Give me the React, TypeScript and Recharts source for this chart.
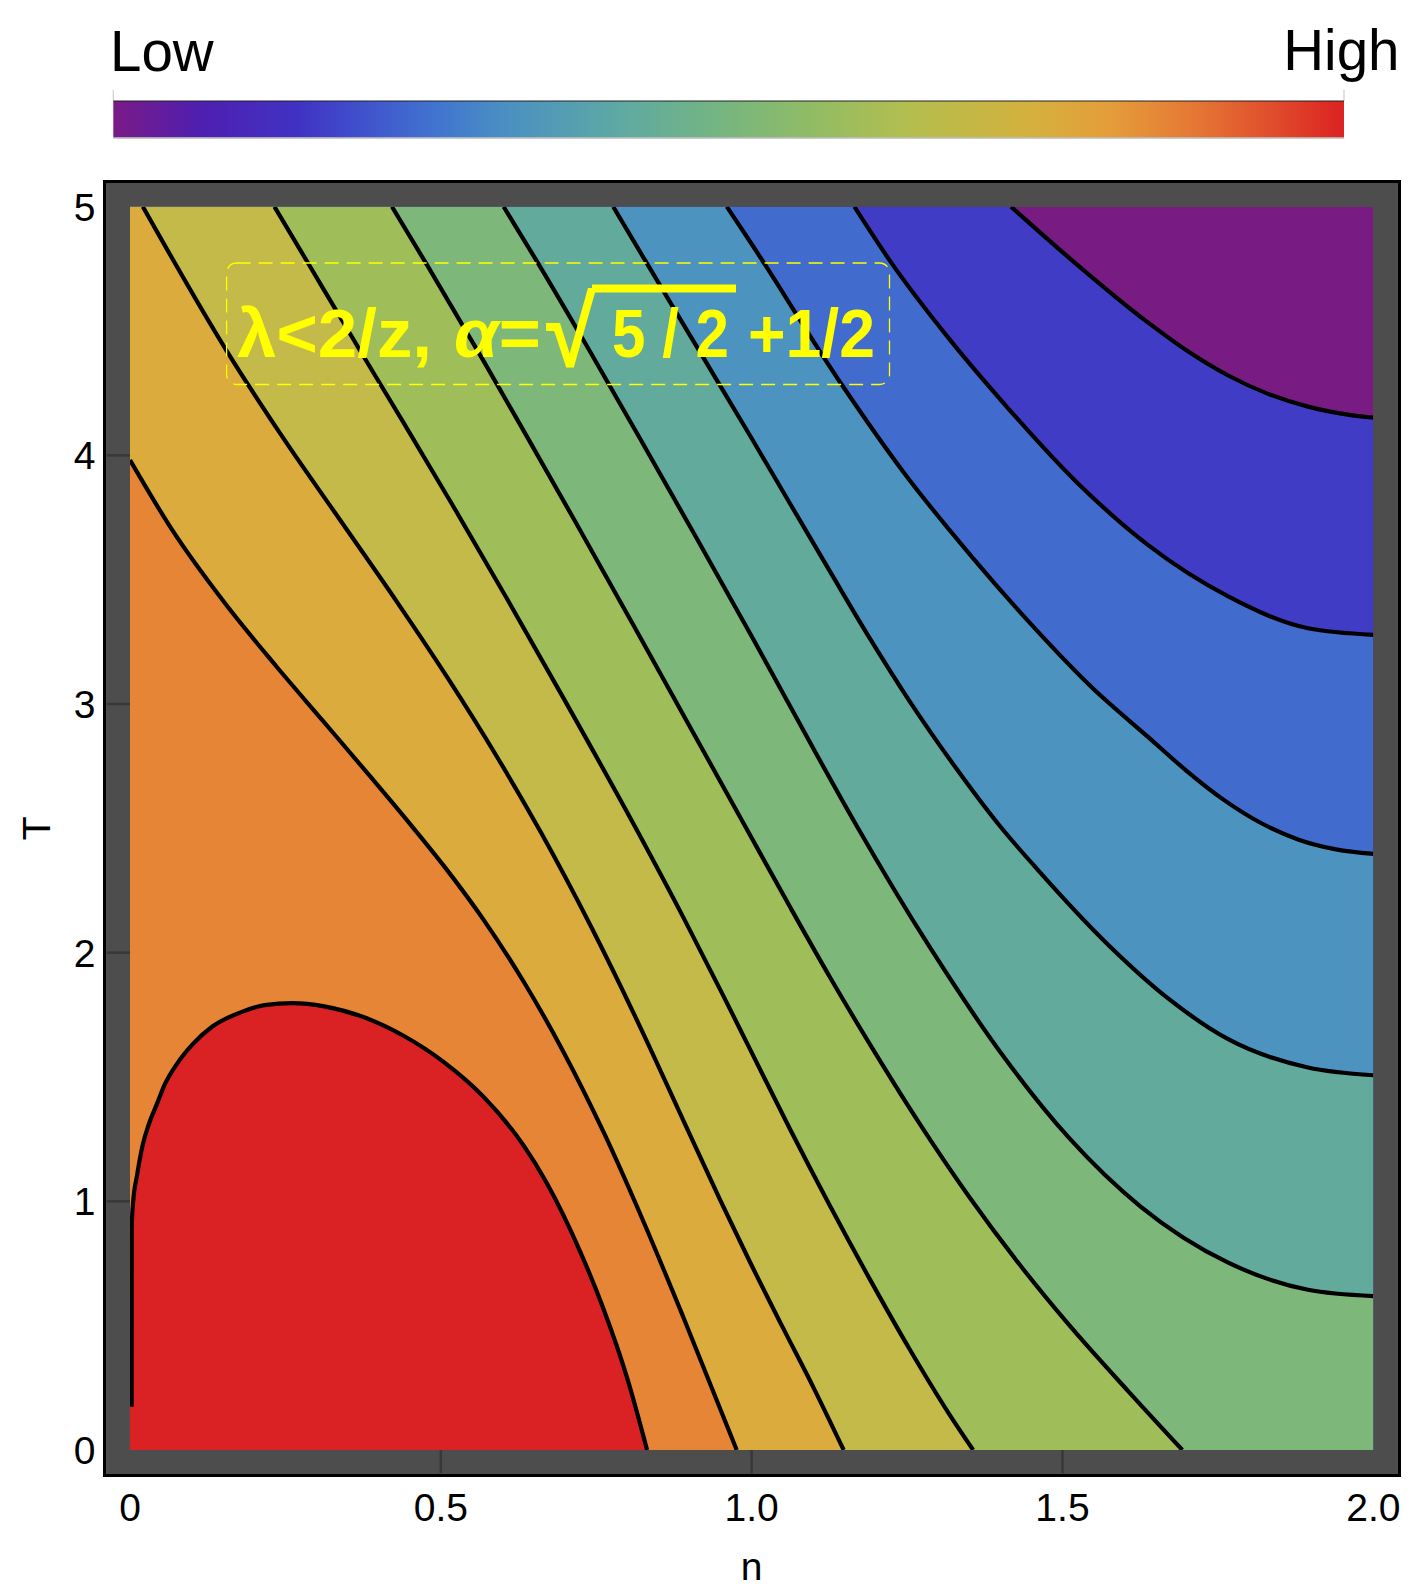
import React from 'react';
import { ComposedChart, Area, Line, XAxis, YAxis } from 'recharts';

const FONT = '"Liberation Sans", Arial, Helvetica, sans-serif';

// ---------- axis ticks ----------
const xTicks = [0, 0.5, 1, 1.5, 2];
const xTickLabels = ['0', '0.5', '1.0', '1.5', '2.0'];
const yTicks = [0, 1, 2, 3, 4, 5];
const yTickLabels = ['0', '1', '2', '3', '4', '5'];
const xFrameTicks = [0.5, 1, 1.5];
const yFrameTicks = [1, 2, 3, 4];

// ---------- contour lines [n, T] (from highest level to lowest) ----------
const contour1: [number, number][] = [
  [0.0026, 0.174], [0.0028, 0.894], [0.0048, 0.991], [0.0112, 1.103], [0.0208, 1.231],
  [0.0304, 1.311], [0.0432, 1.391], [0.0561, 1.471], [0.0753, 1.552], [0.1009, 1.632],
  [0.133, 1.704], [0.1779, 1.76], [0.2163, 1.789], [0.2612, 1.797], [0.3125, 1.784],
  [0.3766, 1.74], [0.4407, 1.665], [0.5049, 1.56], [0.5689, 1.42], [0.6331, 1.225],
  [0.6702, 1.075], [0.7238, 0.8], [0.7613, 0.57], [0.7997, 0.29], [0.8318, 0],
];
const contour2: [number, number][] = [
  [0, 3.981], [0.0689, 3.696], [0.1522, 3.407], [0.2356, 3.151], [0.3125, 2.926],
  [0.383, 2.719], [0.4504, 2.518], [0.5049, 2.349], [0.5689, 2.132], [0.6331, 1.884],
  [0.6971, 1.602], [0.7613, 1.281], [0.8254, 0.922], [0.8895, 0.538], [0.976, 0],
];
const contour3: [number, number][] = [
  [0.0207, 5], [0.155, 4.4225], [0.248, 4.064], [0.338, 3.74], [0.428, 3.416],
  [0.511, 3.105], [0.591, 2.785], [0.66, 2.488], [0.742, 2.103], [0.819, 1.71],
  [0.8895, 1.329], [0.95, 1.002], [0.9973, 0.756], [1.0486, 0.5], [1.0999, 0.249], [1.148, 0],
];
const contour4: [number, number][] = [
  [0.2324, 5], [0.2868, 4.7715], [0.3703, 4.4208], [0.4407, 4.1286], [0.5176, 3.8056],
  [0.6074, 3.4195], [0.6971, 3.0248], [0.819, 2.4762], [0.8895, 2.1449], [0.9535, 1.8313],
  [0.9973, 1.6123], [1.0614, 1.2918], [1.1255, 0.9841], [1.1896, 0.6892], [1.2537, 0.4072],
  [1.3178, 0.1444], [1.3563, 0],
];
const contour5: [number, number][] = [
  [0.4214, 5], [0.4792, 4.7601], [0.5689, 4.3789], [0.6331, 4.0996], [0.7164, 3.7331],
  [0.8126, 3.305], [0.9024, 2.9009], [0.9889, 2.5116], [1.0614, 2.1853], [1.1255, 1.9033],
  [1.1896, 1.6341], [1.2665, 1.3265], [1.3498, 1.0183], [1.4332, 0.7389], [1.5102, 0.504],
  [1.6063, 0.2349], [1.6928, 0],
];
const contour6: [number, number][] = [
  [0.601, 5], [0.6587, 4.7634], [0.7356, 4.4366], [0.819, 4.0738], [0.9088, 3.6787],
  [0.9973, 3.2849], [1.0486, 3.0515], [1.1063, 2.789], [1.17, 2.5055], [1.2858, 2.0249],
  [1.4076, 1.5742], [1.5102, 1.2561], [1.6256, 0.9791], [1.7666, 0.7535], [1.8948, 0.6445], [2, 0.619],
];
const contour7: [number, number][] = [
  [0.7773, 5], [0.8318, 4.771], [0.9088, 4.4491], [0.9973, 4.08], [1.0614, 3.8076],
  [1.1255, 3.5352], [1.1896, 3.266], [1.2537, 3.0128], [1.3307, 2.7356], [1.398, 2.5135],
  [1.4589, 2.337], [1.5742, 2.03], [1.6704, 1.815], [1.7666, 1.652], [1.8948, 1.538], [2, 1.507],
];
const contour8: [number, number][] = [
  [0.96, 5], [0.9973, 4.8601], [1.1448, 4.2848], [1.241, 3.9433], [1.3563, 3.5859],
  [1.446, 3.3303], [1.5487, 3.0633], [1.6384, 2.866], [1.7, 2.7305], [1.76, 2.6135],
  [1.82, 2.5205], [1.88, 2.4545], [1.94, 2.4155], [2, 2.3975],
];
const contour9: [number, number][] = [
  [1.1652, 5], [1.2217, 4.7853], [1.3178, 4.4682], [1.4076, 4.2033], [1.5229, 3.892],
  [1.6384, 3.6379], [1.7666, 3.4328], [1.8948, 3.3046], [2, 3.2783],
];
const contour10: [number, number][] = [
  [1.4172, 5], [1.5102, 4.7954], [1.6384, 4.5326], [1.7024, 4.4174], [1.7666, 4.3211],
  [1.8307, 4.2474], [1.8948, 4.1961], [1.9588, 4.1641], [2, 4.1517],
];

// levels from lowest (purple) to highest (red)
const levelColors = [
  '#781c84', '#413cc5', '#416bcd', '#4d93bf', '#61aa9c', '#7db87a',
  '#9fbe5a', '#c3ba4a', '#dcab3d', '#e68535', '#da2123',
];
const contoursLowToHigh = [
  contour10, contour9, contour8, contour7, contour6,
  contour5, contour4, contour3, contour2, contour1,
];

// legend
const legendLabels = ['Low', 'High'];
const legendStops: [number, string][] = [
  [0, '#7b1a87'], [0.07, '#4f1fb0'], [0.15, '#4032c4'], [0.2, '#4050cc'],
  [0.26, '#4173d0'], [0.32, '#4a90c2'], [0.41, '#5ea9a4'], [0.49, '#74b582'],
  [0.57, '#92bc64'], [0.65, '#b5be4e'], [0.74, '#d3b23e'], [0.81, '#e59d3a'],
  [0.88, '#e57634'], [0.94, '#e04e2c'], [1, '#dc2222'],
];

// ---------- geometry ----------
const W = 1417;
const H = 1593;
const TICK_COLOR = '#383838';
const X_TICK_SIZE = 23.3;
const X_TICK_MARGIN = 20;
const Y_TICK_SIZE = 23.3;
const Y_TICK_MARGIN = 11.2;
const LINE_W = 4.2;

const toPts = (c: [number, number][]) => c.map(([n, T]) => ({ n, T }));
// block that fills the part of a band left of where its boundary starts
const leftBlock = (c: [number, number][]) => {
  const [n0, T0] = c[0];
  return n0 > 0 ? [{ n: 0, T: T0 }, { n: n0 + 0.002, T: T0 }] : null;
};

const renderXTick = (props: any) => {
  const { x, y, payload } = props;
  const v = payload.value;
  const idx = xTicks.indexOf(v);
  const showLine = v > 0 && v < 2;
  return (
    <g>
      {showLine && (
        <line x1={x} x2={x} y1={y - X_TICK_MARGIN - X_TICK_SIZE} y2={y - X_TICK_MARGIN}
          stroke={TICK_COLOR} strokeWidth={2.5} />
      )}
      <text x={x} y={y} dy="0.71em" textAnchor="middle" fontSize={39} fontFamily={FONT} fill="#000">
        {xTickLabels[idx]}
      </text>
    </g>
  );
};

const renderYTick = (props: any) => {
  const { x, y, payload } = props;
  const v = payload.value;
  const idx = yTicks.indexOf(v);
  const showLine = v > 0 && v < 5;
  return (
    <g>
      {showLine && (
        <line x1={x + Y_TICK_MARGIN} x2={x + Y_TICK_MARGIN + Y_TICK_SIZE} y1={y} y2={y}
          stroke={TICK_COLOR} strokeWidth={2.5} />
      )}
      <text x={x} y={y} dy="0.355em" textAnchor="end" fontSize={39} fontFamily={FONT} fill="#000">
        {yTickLabels[idx]}
      </text>
    </g>
  );
};

const renderYTitle = (props: any) => {
  const vb = props.viewBox || { x: 0, y: 206.7, width: 130, height: 1243.3 };
  const bx = vb.x + 50;
  const cy = vb.y + vb.height / 2;
  return (
    <text x={bx} y={cy} transform={`rotate(-90, ${bx}, ${cy})`} textAnchor="middle"
      fontSize={39} fontFamily={FONT} fill="#000">T</text>
  );
};

export default function App() {
  const areas: React.ReactNode[] = [];
  contoursLowToHigh.forEach((c, i) => {
    const block = leftBlock(c);
    if (block) {
      areas.push(
        <Area key={`b${i}`} data={block} dataKey="T" type="linear" stroke="none"
          fill={levelColors[i + 1]} fillOpacity={1} isAnimationActive={false}
          dot={false} activeDot={false} />
      );
    }
    areas.push(
      <Area key={`a${i}`} data={toPts(c)} dataKey="T" type="monotone" stroke="none"
        fill={levelColors[i + 1]} fillOpacity={1} isAnimationActive={false}
        dot={false} activeDot={false} />
    );
  });

  return (
    <div style={{ position: 'absolute', left: 0, top: 0, width: W, height: H, background: '#fff' }}>
      {/* frame */}
      <div style={{
        position: 'absolute', left: 103.3, top: 180, width: 1297.7, height: 1296.7,
        background: '#4d4d4d', border: '3.7px solid #000', boxSizing: 'border-box',
      }} />
      <div style={{ position: 'absolute', left: 0, top: 0 }}>
        <ComposedChart width={W} height={H} margin={{ top: 206.2, right: 43.2, bottom: 0, left: 0 }}>
          <XAxis dataKey="n" type="number" domain={[0, 2]} ticks={xTicks} allowDataOverflow
            height={143} tickSize={X_TICK_SIZE} tickMargin={X_TICK_MARGIN} tickLine={false}
            axisLine={false} tick={renderXTick} interval={0}
            label={{ value: 'n', position: 'insideBottom', offset: 13.5, fontSize: 39, fill: '#000', fontFamily: FONT }} />
          <XAxis xAxisId="top" orientation="top" dataKey="n" type="number" domain={[0, 2]}
            ticks={xFrameTicks} height={0.5} tickSize={23.3} tick={false} axisLine={false}
            tickLine={{ stroke: TICK_COLOR, strokeWidth: 2.5 }} interval={0} />
          <YAxis type="number" domain={[0, 5]} ticks={yTicks} allowDataOverflow width={130}
            tickSize={Y_TICK_SIZE} tickMargin={Y_TICK_MARGIN} tickLine={false} axisLine={false}
            tick={renderYTick} interval={0} label={{ content: renderYTitle }} />
          <YAxis yAxisId="right" orientation="right" type="number" domain={[0, 5]}
            ticks={yFrameTicks} width={0.5} tickSize={23.3} tick={false} axisLine={false}
            tickLine={{ stroke: TICK_COLOR, strokeWidth: 2.5 }} interval={0} />

          <Area data={[{ n: 0, T: 5 }, { n: 2, T: 5 }]} dataKey="T" type="linear"
            stroke="none" fill={levelColors[0]} fillOpacity={1} isAnimationActive={false}
            dot={false} activeDot={false} />
          {areas}
          {contoursLowToHigh.map((c, i) => (
            <Line key={`l${i}`} data={toPts(c)} dataKey="T" type="monotone" stroke="#000"
              strokeWidth={LINE_W} style={{ strokeWidth: LINE_W }} dot={false} activeDot={false}
              isAnimationActive={false} />
          ))}
        </ComposedChart>
      </div>

      {/* legend + annotation */}
      <svg width={W} height={H} style={{ position: 'absolute', left: 0, top: 0, pointerEvents: 'none' }}>
        <defs>
          <linearGradient id="legendGrad" x1="0" x2="1" y1="0" y2="0">
            {legendStops.map(([o, c]) => <stop key={o} offset={o} stopColor={c} />)}
          </linearGradient>
        </defs>
        <text x={110} y={70.5} fontSize={56.5} fontFamily={FONT} fill="#000">{legendLabels[0]}</text>
        <text x={1399.5} y={69.5} fontSize={56.5} fontFamily={FONT} fill="#000" textAnchor="end">{legendLabels[1]}</text>
        <line x1={113.3} x2={113.3} y1={90} y2={101} stroke="#cccccc" strokeWidth={1.2} />
        <line x1={1344} x2={1344} y1={90} y2={101} stroke="#cccccc" strokeWidth={1.2} />
        <rect x={113.3} y={101} width={1230.7} height={36.7} fill="url(#legendGrad)" />
        <line x1={113.3} x2={1344} y1={101} y2={101} stroke="#222" strokeWidth={1} />
        <line x1={113.3} x2={1344} y1={138} y2={138} stroke="#b8b8b8" strokeWidth={1.4} />

        <rect x={226.6} y={263} width={662.9} height={121.5} rx={10} ry={10} fill="none"
          stroke="#ffff00" strokeWidth={1.3} strokeDasharray="14 8" />
        <g fill="#ffff00" fontFamily={FONT} fontWeight="bold" fontSize={68}>
          <text x={237} y={357.4} textLength={195} lengthAdjust="spacingAndGlyphs">λ&lt;2/z,</text>
          <text x={454} y={357.4} textLength={87} lengthAdjust="spacingAndGlyphs">
            <tspan fontStyle="italic">α</tspan>=
          </text>
          <text x={546} y={366} fontSize={99} fontWeight="bold" textLength={50} lengthAdjust="spacingAndGlyphs">√</text>
          <rect x={592} y={284.5} width={144} height={8} />
          <text x={612} y={357.4} textLength={117} lengthAdjust="spacingAndGlyphs">5 / 2</text>
          <text x={748} y={357.4} textLength={127} lengthAdjust="spacingAndGlyphs">+1/2</text>
        </g>
      </svg>
    </div>
  );
}
